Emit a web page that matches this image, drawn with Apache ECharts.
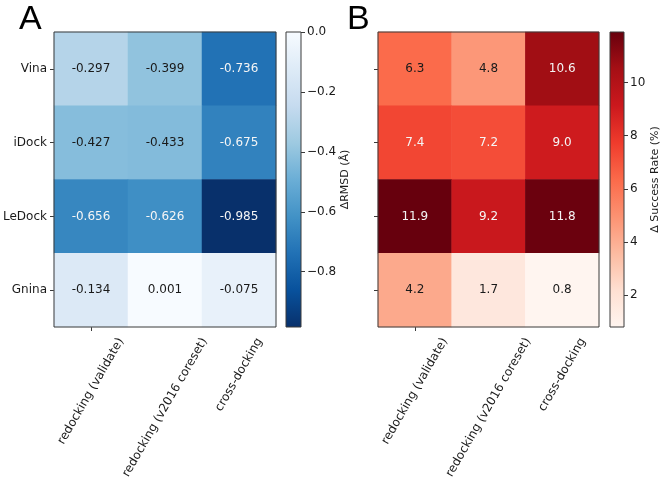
<!DOCTYPE html>
<html>
<head>
<meta charset="utf-8">
<script src="https://cdn.jsdelivr.net/npm/echarts@6/dist/echarts.min.js"></script>
<style>html,body{margin:0;padding:0;background:#fff}#c{width:666px;height:480px}</style>
</head>
<body>
<div id="c"></div>
<script>
// ---- data ----
const programs = ['Vina', 'iDock', 'LeDock', 'Gnina'];
const tasks = ['redocking (validate)', 'redocking (v2016 coreset)', 'cross-docking'];
// rows follow programs, columns follow tasks
const rmsdDelta = [
  [-0.297, -0.399, -0.736],
  [-0.427, -0.433, -0.675],
  [-0.656, -0.626, -0.985],
  [-0.134, 0.001, -0.075]
];
const successDelta = [
  [6.3, 4.8, 10.6],
  [7.4, 7.2, 9.0],
  [11.9, 9.2, 11.8],
  [4.2, 1.7, 0.8]
];
const rmsdTicks = [0, -0.2, -0.4, -0.6, -0.8];
const successTicks = [2, 4, 6, 8, 10];
const blues = ['#f7fbff', '#deebf7', '#c6dbef', '#9ecae1', '#6baed6', '#4292c6', '#2171b5', '#08519c', '#08306b'];
const reds = ['#fff5f0', '#fee0d2', '#fcbba1', '#fc9272', '#fb6a4a', '#ef3b2c', '#cb181d', '#a50f15', '#67000d'];

const FONT = 'DejaVu Sans';
const LABEL_FONT = '12px "DejaVu Sans"';
const chart = echarts.init(document.getElementById('c'), null, {renderer: 'canvas'});

function flat(m) { return m.flat(); }
const aMin = Math.min(...flat(rmsdDelta)), aMax = Math.max(...flat(rmsdDelta));
const bMin = Math.min(...flat(successDelta)), bMax = Math.max(...flat(successDelta));

// cell data; text is white on the dark half of the colour map
function cells(m, lo, hi, darkIsLow, digits) {
  const mid = (lo + hi) / 2;
  const out = [];
  m.forEach((row, r) => row.forEach((v, c) => {
    const dark = darkIsLow ? v < mid : v > mid;
    out.push({value: [c, r, v], label: {color: dark ? '#f5f5f5' : '#1a1a1a', formatter: () => v.toFixed(digits)}});
  }));
  return out;
}

function gradient(colorsTopToBottom) {
  const n = colorsTopToBottom.length - 1;
  return new echarts.graphic.LinearGradient(0, 0, 0, 1,
    colorsTopToBottom.map((c, i) => ({offset: i / n, color: c})));
}

const frame = {show: true, borderColor: '#3a3a3a', borderWidth: 1, backgroundColor: 'transparent', z: 10};
const catX = (gi) => ({
  type: 'category', gridIndex: gi, data: tasks,
  axisLine: {show: false}, splitArea: {show: false},
  axisTick: {show: true, alignWithLabel: true, length: 4, lineStyle: {color: '#3a3a3a'}},
  axisLabel: {show: false}
});
const catY = (gi, showLabel) => ({
  type: 'category', gridIndex: gi, data: programs, inverse: true,
  axisLine: {show: false}, splitArea: {show: false},
  axisTick: {show: true, alignWithLabel: true, length: 4, lineStyle: {color: '#3a3a3a'}},
  axisLabel: {show: showLabel, fontFamily: FONT, fontSize: 12, color: '#1a1a1a', margin: 7}
});
const cbX = (gi) => ({type: 'category', gridIndex: gi, data: [''], show: false});
const cbY = (gi, lo, hi, ticks, fmt, name, gap) => ({
  type: 'value', gridIndex: gi, position: 'right', min: lo, max: hi,
  splitLine: {show: false}, axisLine: {show: false},
  axisTick: {show: true, length: 4, customValues: ticks, lineStyle: {color: '#3a3a3a'}},
  axisLabel: {customValues: ticks, formatter: fmt, fontFamily: FONT, fontSize: 12, color: '#1a1a1a', margin: 6},
  name: name, nameLocation: 'middle', nameRotate: 90, nameGap: gap,
  nameTextStyle: {fontFamily: FONT, fontSize: 11, color: '#1a1a1a'}
});

const gridA = {left: 54, top: 32, width: 222, height: 295};
const gridB = {left: 378, top: 32, width: 221, height: 295};

chart.setOption({
  animation: false,
  backgroundColor: '#fff',
  textStyle: {fontFamily: FONT},
  grid: [
    Object.assign({}, gridA, frame),
    {left: 286, top: 32, width: 15, height: 295, show: true, borderColor: '#3a3a3a', borderWidth: 1,
     backgroundColor: gradient(blues)},
    Object.assign({}, gridB, frame),
    {left: 610, top: 32, width: 14, height: 295, show: true, borderColor: '#3a3a3a', borderWidth: 1,
     backgroundColor: gradient(reds.slice().reverse())}
  ],
  xAxis: [catX(0), cbX(1), catX(2), cbX(3)],
  yAxis: [
    catY(0, true),
    cbY(1, aMin, aMax, rmsdTicks, v => v.toFixed(1).replace('-', '\u2212'), '\u0394RMSD (\u00c5)', 37),
    catY(2, false),
    cbY(3, bMin, bMax, successTicks, v => String(v), '\u0394 Success Rate (%)', 22)
  ],
  visualMap: [
    {show: false, seriesIndex: 0, min: aMin, max: aMax, inRange: {color: blues.slice().reverse()}},
    {show: false, seriesIndex: 1, min: bMin, max: bMax, inRange: {color: reds}}
  ],
  series: [
    {type: 'heatmap', xAxisIndex: 0, yAxisIndex: 0, data: cells(rmsdDelta, aMin, aMax, true, 3),
     label: {show: true, fontFamily: FONT, fontSize: 12}, itemStyle: {borderWidth: 0}, emphasis: {disabled: true}},
    {type: 'heatmap', xAxisIndex: 2, yAxisIndex: 2, data: cells(successDelta, bMin, bMax, false, 1),
     label: {show: true, fontFamily: FONT, fontSize: 12}, itemStyle: {borderWidth: 0}, emphasis: {disabled: true}}
  ]
});

// rotated category labels, centred under their ticks (matplotlib style rotation=60)
const ctx = document.createElement('canvas').getContext('2d');
ctx.font = LABEL_FONT;
const ang = Math.PI / 3, lh = 12;
const labelTop = 336;
const graphics = [
  {type: 'text', left: 19, top: 3, style: {text: 'A', font: '34px "Liberation Sans"', fill: '#000'}},
  {type: 'text', left: 347, top: 3, style: {text: 'B', font: '34px "Liberation Sans"', fill: '#000'}}
];
[0, 2].forEach(xi => {
  tasks.forEach((t, i) => {
    const px = chart.convertToPixel({xAxisIndex: xi}, i);
    const w = ctx.measureText(t).width;
    const extY = w * Math.sin(ang) + lh * Math.cos(ang);
    graphics.push({type: 'text', x: px, y: labelTop + extY / 2, rotation: ang,
      style: {text: t, font: LABEL_FONT, fill: '#1a1a1a', align: 'center', verticalAlign: 'middle'}});
  });
});
chart.setOption({graphic: graphics});
</script>
</body>
</html>
